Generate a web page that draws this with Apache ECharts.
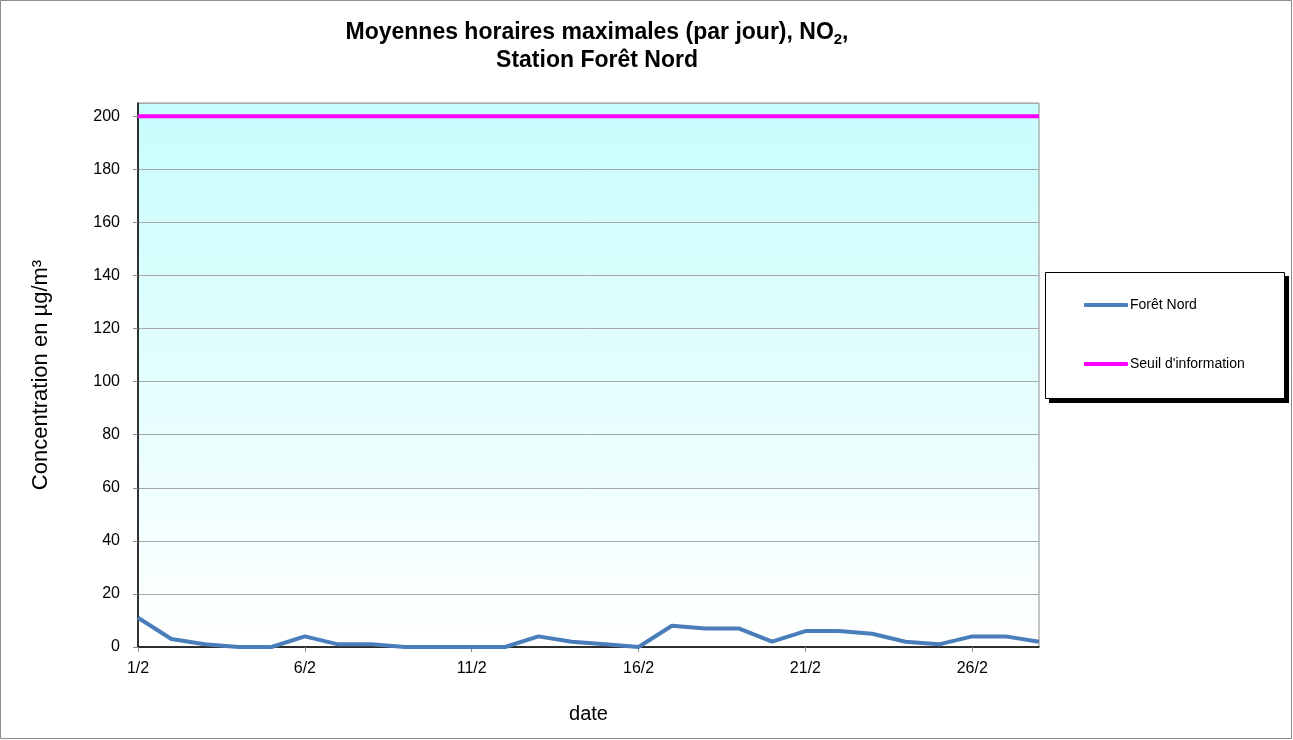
<!DOCTYPE html>
<html><head><meta charset="utf-8">
<script src="https://cdn.jsdelivr.net/npm/echarts@6/dist/echarts.min.js"></script>
<style>html,body{margin:0;padding:0;background:#fff}#c{width:1293px;height:740px}</style>
</head><body><div id="c"></div>
<script>
const days = ['1/2','2/2','3/2','4/2','5/2','6/2','7/2','8/2','9/2','10/2','11/2','12/2','13/2','14/2','15/2','16/2','17/2','18/2','19/2','20/2','21/2','22/2','23/2','24/2','25/2','26/2','27/2','28/2'];
const foretNord = [11,3,1,0,0,4,1,1,0,0,0,0,4,2,1,0,8,7,7,2,6,6,5,2,1,4,4,2];
const seuil = [200,200,200,200,200,200,200,200,200,200,200,200,200,200,200,200,200,200,200,200,200,200,200,200,200,200,200,200];
const yTicks = [0,20,40,60,80,100,120,140,160,180,200];

const chart = echarts.init(document.getElementById('c'));
const FONT = 'Liberation Sans, Arial, sans-serif';
chart.setOption({
  animation: false,
  backgroundColor: '#fff',
  textStyle: { fontFamily: FONT },
  graphic: [
    { type: 'rect', shape: { x: 0.5, y: 0.5, width: 1291, height: 738 }, style: { fill: 'none', stroke: '#8c8c8c', lineWidth: 1 }, silent: true, z: -10 },
    { type: 'rect', shape: { x: 1049, y: 276, width: 240, height: 127 }, style: { fill: '#000' }, silent: true, z: -5 },
    { type: 'rect', shape: { x: 1045.5, y: 272.5, width: 239, height: 126 }, style: { fill: '#fff', stroke: '#000', lineWidth: 1 }, silent: true, z: -4 }
  ],
  title: {
    left: 592, top: 14, textAlign: 'center',
    text: '{b|Moyennes horaires maximales (par jour), NO}{s|2}{b|,}\n{b|Station Forêt Nord}',
    textStyle: {
      rich: {
        b: { fontFamily: FONT, fontWeight: 'bold', fontSize: 23, color: '#000', lineHeight: 28, align: 'center' },
        s: { fontFamily: FONT, fontWeight: 'bold', fontSize: 15, color: '#000', lineHeight: 28, padding: [12, 0, 0, 0], verticalAlign: 'bottom' }
      }
    }
  },
  legend: {
    orient: 'vertical', left: 1045, top: 272,
    padding: [26, 40, 26, 39], itemGap: 45,
    icon: 'roundRect', itemWidth: 44, itemHeight: 4,
    textStyle: { fontFamily: FONT, fontSize: 14, color: '#000', padding: [0, 0, 0, -3] },
    data: ['Forêt Nord', "Seuil d'information"]
  },
  grid: {
    left: 138, right: 254, top: 103, bottom: 93, show: true,
    borderColor: '#8c8c8c', borderWidth: 1,
    backgroundColor: new echarts.graphic.LinearGradient(0, 0, 0, 1, [{ offset: 0, color: '#c8fdfd' }, { offset: 1, color: '#ffffff' }])
  },
  xAxis: {
    type: 'category', data: days, boundaryGap: false,
    name: 'date', nameLocation: 'middle', nameGap: 57,
    nameTextStyle: { fontFamily: FONT, fontSize: 20, color: '#000' },
    axisLine: { lineStyle: { color: '#000', width: 1.5 } },
    axisTick: { interval: 4, length: 5, lineStyle: { color: '#8c8c8c' } },
    axisLabel: { interval: 4, margin: 14, fontFamily: FONT, fontSize: 16, color: '#000' },
    splitLine: { show: false }
  },
  yAxis: {
    type: 'value', min: 0, max: 205, interval: 20,
    name: 'Concentration en µg/m³', nameLocation: 'middle', nameGap: 86,
    nameTextStyle: { fontFamily: FONT, fontSize: 22, color: '#000' },
    axisLine: { show: true, lineStyle: { color: '#000', width: 1.5 } },
    axisTick: { show: true, length: 5, lineStyle: { color: '#8c8c8c' } },
    axisLabel: { margin: 18, fontFamily: FONT, fontSize: 16, color: '#000', showMaxLabel: false,
      formatter: v => (yTicks.indexOf(v) >= 0 ? String(v) : '') },
    splitLine: { lineStyle: { color: '#a8a8a8', width: 1 } }
  },
  series: [
    { name: 'Forêt Nord', type: 'line', data: foretNord, symbol: 'none', color: '#4a7ebb', lineStyle: { width: 4, color: '#4a7ebb' }, z: 3 },
    { name: "Seuil d'information", type: 'line', data: seuil, symbol: 'none', color: '#ff00ff', lineStyle: { width: 4, color: '#ff00ff' }, z: 2 }
  ]
});
</script></body></html>
